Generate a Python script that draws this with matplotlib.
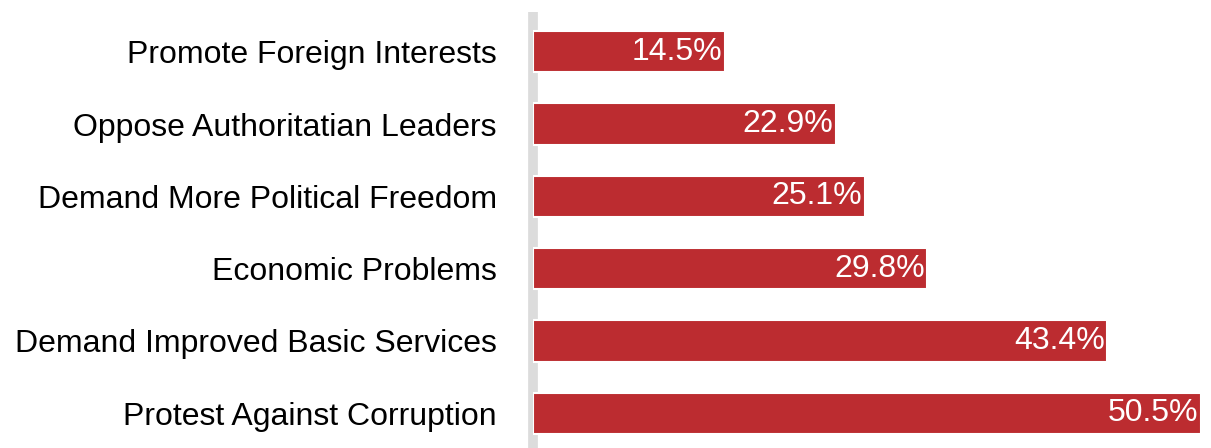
import matplotlib.pyplot as plt

# reasons for protests, share of responses
reasons = ["Protest Against Corruption", "Demand Improved Basic Services",
           "Economic Problems", "Demand More Political Freedom",
           "Oppose Authoritatian Leaders", "Promote Foreign Interests"]
shares = [50.5, 43.4, 29.8, 25.1, 22.9, 14.5]

plt.rcParams['font.family'] = ['Liberation Sans', 'DejaVu Sans']

fig = plt.figure(figsize=(12.11, 4.48), dpi=100)
ax = fig.add_axes([533 / 1211, 0, 1 - 533 / 1211, 436 / 448])

y = range(len(reasons))
ax.barh(y, shares, height=0.57, color='#bc2c30', edgecolor='white',
        linewidth=1.5, zorder=3)

for yi, v in zip(y, shares):
    ax.text(v - 0.2, yi, f"{v}%", ha='right', va='center', color='white',
            fontsize=23, zorder=4)

ax.set_xlim(0, 51.25)
ax.set_ylim(-0.48, 5.55)
ax.set_yticks(list(y))
ax.set_yticklabels(reasons, fontsize=23)
ax.tick_params(axis='y', length=0, pad=26)
ax.set_xticks([])

for s in ['top', 'right', 'bottom']:
    ax.spines[s].set_visible(False)
ax.spines['left'].set_color('#dcdcdc')
ax.spines['left'].set_linewidth(7)
ax.spines['left'].set_capstyle('butt')
ax.spines['left'].set_zorder(1)

fig.savefig('out.png', dpi=100)
